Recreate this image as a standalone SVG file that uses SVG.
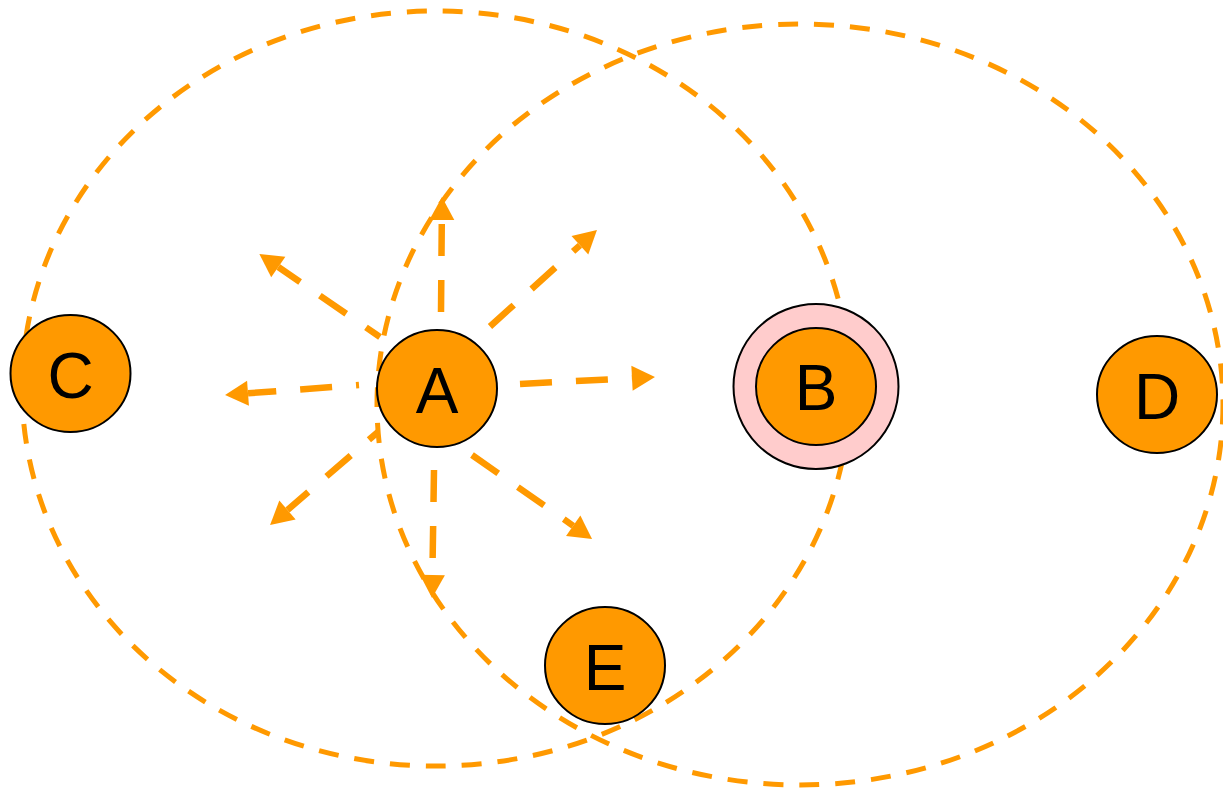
<svg xmlns="http://www.w3.org/2000/svg" width="1223" height="791" viewBox="0 0 1223 791">
  <style>
    .ring { fill: none; stroke: #FF9900; stroke-width: 5; stroke-dasharray: 20 16; }
    .arrow { fill: none; stroke: #FF9900; stroke-width: 6.5; stroke-dasharray: 32 24; marker-end: url(#head); }
    .node { fill: #FF9900; stroke: #000; stroke-width: 2; }
    .halo { fill: #FFCCCC; stroke: #000; stroke-width: 2; }
    .label { font-family: "Liberation Sans", Arial, sans-serif; font-size: 64px; fill: #000; text-anchor: middle; }
  </style>
  <defs>
    <marker id="head" markerUnits="userSpaceOnUse" markerWidth="25" markerHeight="26" viewBox="0 0 23 26" refX="0" refY="13" orient="auto">
      <path d="M0,0.5 L23,13 L0,25.5 Z" fill="#FF9900"/>
    </marker>
  </defs>
  <g id="ranges">
    <ellipse class="ring" cx="436" cy="388.5" rx="414" ry="377.5"/>
    <ellipse class="ring" cx="800" cy="404.5" rx="423" ry="380.5"/>
  </g>
  <g id="connectors">
    <line class="arrow" x1="441" y1="312" x2="441.8" y2="220"/>
    <line class="arrow" x1="490" y1="326.5" x2="579.9" y2="245.3"/>
    <line class="arrow" x1="520" y1="384" x2="632" y2="378.2"/>
    <line class="arrow" x1="472" y1="455" x2="573.2" y2="525.8"/>
    <line class="arrow" x1="434" y1="470" x2="432.4" y2="575"/>
    <line class="arrow" x1="378" y1="432" x2="287.5" y2="510" stroke-dashoffset="20"/>
    <line class="arrow" x1="359" y1="385" x2="248" y2="393.3" stroke-dashoffset="29"/>
    <line class="arrow" x1="380" y1="337" x2="278.3" y2="267" stroke-dashoffset="15"/>
  </g>
  <g id="node-A">
    <ellipse class="node" cx="437" cy="388.5" rx="60" ry="58.5"/>
    <text class="label" x="437" y="413">A</text>
  </g>
  <g id="node-B">
    <circle class="halo" cx="816" cy="386.5" r="82.5"/>
    <ellipse class="node" cx="816" cy="386.5" rx="60" ry="58.5"/>
    <text class="label" x="816" y="410">B</text>
  </g>
  <g id="node-C">
    <ellipse class="node" cx="70.5" cy="373.5" rx="60" ry="58.5"/>
    <text class="label" x="70.5" y="398">C</text>
  </g>
  <g id="node-D">
    <ellipse class="node" cx="1157" cy="394.5" rx="60" ry="58.5"/>
    <text class="label" x="1157" y="419">D</text>
  </g>
  <g id="node-E">
    <ellipse class="node" cx="605" cy="665.5" rx="60" ry="58.5"/>
    <text class="label" x="605" y="690">E</text>
  </g>
</svg>
